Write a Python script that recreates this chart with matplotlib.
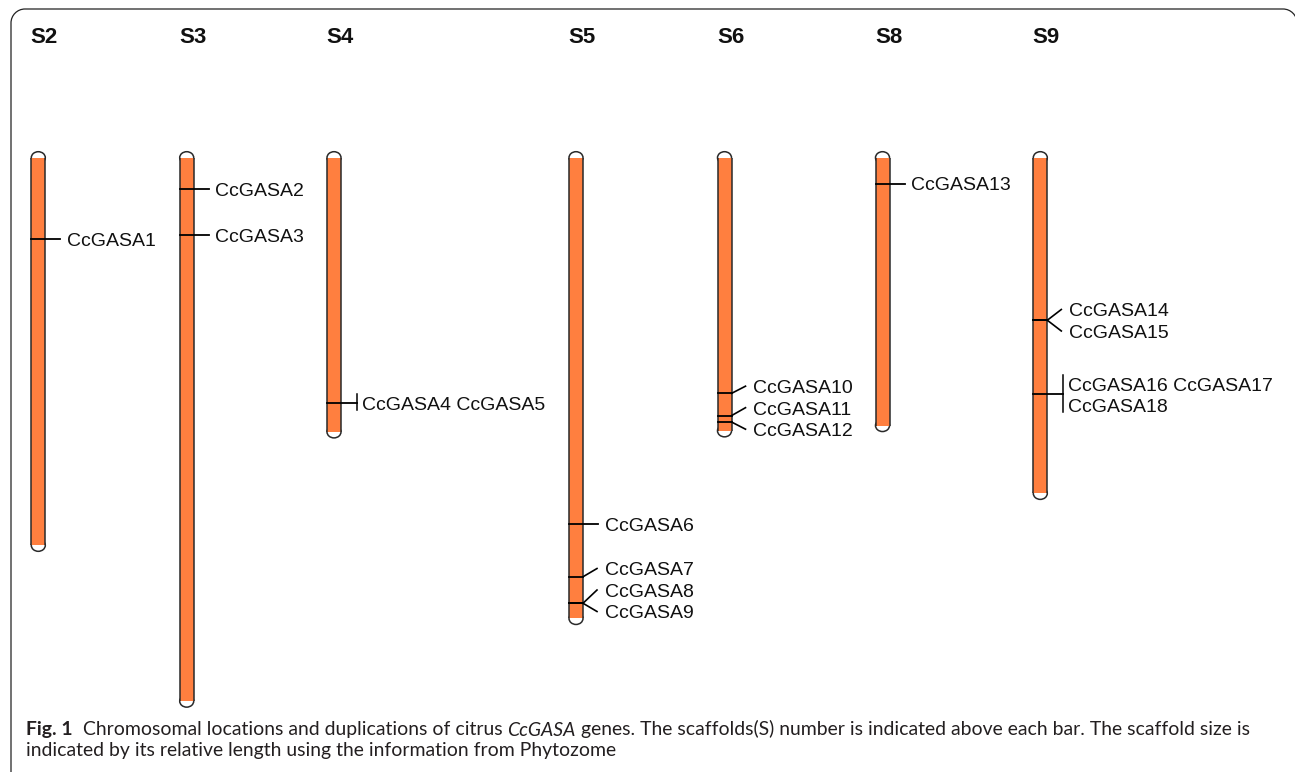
import matplotlib
matplotlib.use("Agg")
import matplotlib.pyplot as plt
from matplotlib.patches import Ellipse, Rectangle, PathPatch
from matplotlib.path import Path

# ---------------- data ----------------
scaffolds = ['S2', 'S3', 'S4', 'S5', 'S6', 'S8', 'S9']
scaffold_len_mb = [37.7, 52.4, 27.0, 44.6, 26.9, 26.4, 32.8]

genes = ['CcGASA1', 'CcGASA2', 'CcGASA3', 'CcGASA4', 'CcGASA5', 'CcGASA6',
         'CcGASA7', 'CcGASA8', 'CcGASA9', 'CcGASA10', 'CcGASA11', 'CcGASA12',
         'CcGASA13', 'CcGASA14', 'CcGASA15', 'CcGASA16', 'CcGASA17', 'CcGASA18']
gene_scaffold = ['S2', 'S3', 'S3', 'S4', 'S4', 'S5', 'S5', 'S5', 'S5',
                 'S6', 'S6', 'S6', 'S8', 'S9', 'S9', 'S9', 'S9', 'S9']
gene_pos_mb = [8.2, 3.5, 7.9, 23.7, 23.7, 35.1, 40.1, 42.6, 42.6,
               22.8, 24.9, 25.5, 3.0, 15.9, 15.9, 22.9, 22.9, 22.9]
tandem_groups = [['CcGASA4', 'CcGASA5'], ['CcGASA16', 'CcGASA17', 'CcGASA18']]

caption_line1 = [("Fig. 1", "bold", "normal"),
                 ("  Chromosomal locations and duplications of citrus ", "normal", "normal"),
                 ("CcGASA", "normal", "italic"),
                 (" genes. The scaffolds(S) number is indicated above each bar. The scaffold size is", "normal", "normal")]
caption_line2 = "indicated by its relative length using the information from Phytozome"

# ---------------- layout ----------------
W, H, DPI = 1295, 772, 100
TOP_PX = 151.7          # pixel row of chromosome start
PX_PER_MB = 10.6
x_centers = [38.3, 186.7, 334.0, 576.0, 724.5, 882.5, 1040.3]
HALF_W = 7.0
CAP_PX = 6.0
ORANGE = '#ff7f3f'
EDGE = '#2a2a2a'
LABEL_FS = 14
ROW_SEP_PX = 21.5

fig = plt.figure(figsize=(W / DPI, H / DPI), dpi=DPI)
fig.patch.set_facecolor('white')

# pixel-space overlay
axp = fig.add_axes([0, 0, 1, 1])
axp.set_xlim(0, W)
axp.set_ylim(H, 0)
axp.axis('off')

# data axes: x in pixels, y in Mb
ax = fig.add_axes([0, 0, 1, 1])
ax.set_xlim(0, W)
ax.set_ylim((H - TOP_PX) / PX_PER_MB, -TOP_PX / PX_PER_MB)
ax.axis('off')
ax.patch.set_alpha(0)

cap = CAP_PX / PX_PER_MB
def px(mb):
    return mb * PX_PER_MB + TOP_PX
def mb(p):
    return (p - TOP_PX) / PX_PER_MB

# frame: left edge, top edge, rounded corners (right edge outside the picture)
R = 14.0
KAPPA = 0.5523
L_X, T_Y, R_X = 11.0, 9.0, 1297.0
verts = [(L_X, H + 5), (L_X, T_Y + R),
         (L_X, T_Y + R - KAPPA * R), (L_X + R - KAPPA * R, T_Y), (L_X + R, T_Y),
         (R_X - R, T_Y),
         (R_X - R + KAPPA * R, T_Y), (R_X, T_Y + R - KAPPA * R), (R_X, T_Y + R),
         (R_X, H + 5)]
codes = [Path.MOVETO, Path.LINETO,
         Path.CURVE4, Path.CURVE4, Path.CURVE4,
         Path.LINETO,
         Path.CURVE4, Path.CURVE4, Path.CURVE4,
         Path.LINETO]
axp.add_patch(PathPatch(Path(verts, codes), fc='none', ec='#222222', lw=0.9, clip_on=False))

cap_h_px = 0.716 * LABEL_FS * DPI / 72.0

def spread(anchors, sep):
    n = len(anchors)
    clusters = [[i] for i in range(n)]
    def place(cl):
        lo = min(anchors[i] for i in cl); hi = max(anchors[i] for i in cl)
        c = (lo + hi) / 2.0
        m = len(cl)
        return [c + (j - (m - 1) / 2.0) * sep for j in range(m)]
    changed = True
    while changed:
        changed = False
        for a in range(len(clusters) - 1):
            b = a + 1
            pa = place(clusters[a]); pb = place(clusters[b])
            if pa[-1] + sep > pb[0] + 1e-6:
                clusters[a] = clusters[a] + clusters[b]
                del clusters[b]
                changed = True
                break
    out = [0.0] * n
    for cl in clusters:
        for i, y in zip(cl, place(cl)):
            out[i] = y
    return out

for s, L, xc in zip(scaffolds, scaffold_len_mb, x_centers):
    # chromosome body
    ax.add_patch(Ellipse((xc, cap), 2 * HALF_W, 2 * cap, fc='white', ec=EDGE, lw=1.1, zorder=2))
    ax.add_patch(Ellipse((xc, L - cap), 2 * HALF_W, 2 * cap, fc='white', ec=EDGE, lw=1.1, zorder=2))
    ax.add_patch(Rectangle((xc - HALF_W, cap), 2 * HALF_W, L - 2 * cap, fc=ORANGE, ec='none', zorder=3))
    ax.plot([xc - HALF_W] * 2, [cap, L - cap], color=EDGE, lw=1.1, zorder=4, solid_capstyle='butt')
    ax.plot([xc + HALF_W] * 2, [cap, L - cap], color=EDGE, lw=1.1, zorder=4, solid_capstyle='butt')
    # scaffold name
    axp.text(xc - HALF_W - 0.5, 43.3, s, fontsize=16, fontweight='bold',
             family=['Liberation Sans', 'DejaVu Sans'], ha='left', va='baseline', color='#111111')

    # rows of labels
    idx = sorted([i for i, g in enumerate(gene_scaffold) if g == s], key=lambda i: gene_pos_mb[i])
    rows = []   # (anchor_px, text, group_id)
    done = set()
    for i in idx:
        g = genes[i]
        if g in done:
            continue
        grp = None
        for gi, tg in enumerate(tandem_groups):
            if g in tg:
                grp = gi
        if grp is not None:
            names = tandem_groups[grp]
            for k in range(0, len(names), 2):
                rows.append((px(gene_pos_mb[i]), ' '.join(names[k:k + 2]), grp))
            done.update(names)
        else:
            rows.append((px(gene_pos_mb[i]), g, None))
            done.add(g)
    anchors = [r[0] for r in rows]
    ys = spread(anchors, ROW_SEP_PX)

    drawn_groups = set()
    for (a, text, grp), y in zip(rows, ys):
        if grp is not None:
            if grp not in drawn_groups:
                drawn_groups.add(grp)
                gys = [yy for (aa, tt, gg), yy in zip(rows, ys) if gg == grp]
                ax.plot([xc - HALF_W, xc + 23], [mb(a)] * 2, color='black', lw=1.3, zorder=5)
                ax.plot([xc + 23] * 2, [mb(min(gys) - 8.5), mb(max(gys) + 7)], color='black', lw=1.1, zorder=5)
            lx = xc + 27.5
        else:
            if abs(y - a) < 0.5:
                ax.plot([xc - HALF_W, xc + 22], [mb(a)] * 2, color='black', lw=1.3, zorder=5)
            else:
                ax.plot([xc - HALF_W, xc + HALF_W], [mb(a)] * 2, color='black', lw=1.3, zorder=5)
                ax.plot([xc + HALF_W, xc + 21], [mb(a), mb(y)], color='black', lw=1.2, zorder=5)
            lx = xc + 28.5
        axp.text(lx, y + cap_h_px / 2.0, text, fontsize=LABEL_FS,
                 family=['Liberation Sans', 'DejaVu Sans'], ha='left', va='baseline', color='#111111')

# ---------------- caption ----------------
renderer = fig.canvas.get_renderer()
CAP_FAMILY = ['Lato', 'DejaVu Sans']
CAP_COLOR = '#231f20'

def seg_width(txt, fs, weight, style):
    t = axp.text(0, 0, txt, fontsize=fs, fontweight=weight, fontstyle=style, family=CAP_FAMILY)
    w = t.get_window_extent(renderer).width
    t.remove()
    return w

def space_width(fs, weight, style):
    return seg_width('a a', fs, weight, style) - seg_width('aa', fs, weight, style)

def line_width(segs, fs):
    tot = 0
    for txt, wgt, sty in segs:
        core = txt.strip(' ')
        nl = len(txt) - len(txt.lstrip(' '))
        nt = len(txt) - len(txt.rstrip(' '))
        sw = space_width(fs, wgt, sty)
        tot += seg_width(core, fs, wgt, sty) + (nl + nt) * sw
    return tot

def draw_line(segs, x0, yb, fs):
    x = x0
    for txt, wgt, sty in segs:
        core = txt.strip(' ')
        nl = len(txt) - len(txt.lstrip(' '))
        nt = len(txt) - len(txt.rstrip(' '))
        sw = space_width(fs, wgt, sty)
        x += nl * sw
        t = axp.text(x, yb, core, fontsize=fs, fontweight=wgt, fontstyle=sty,
                     family=CAP_FAMILY, color=CAP_COLOR, ha='left', va='baseline')
        x += t.get_window_extent(renderer).width + nt * sw

target = 1244 - 26
fs0 = 13.0
w0 = line_width(caption_line1, fs0)
fs = fs0 * target / w0
draw_line(caption_line1, 26, 735.5, fs)
draw_line([(caption_line2, 'normal', 'normal')], 26, 756, fs)

fig.savefig('out.png', dpi=DPI, facecolor='white')
